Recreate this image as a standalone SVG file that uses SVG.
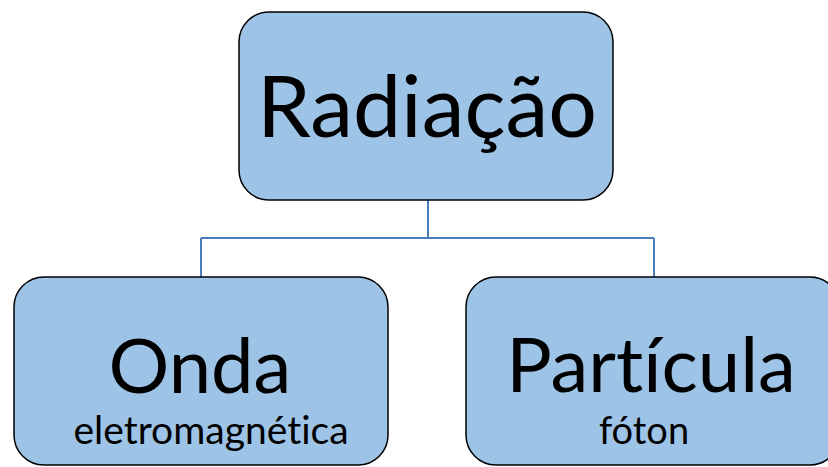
<svg xmlns="http://www.w3.org/2000/svg" width="828" height="467" viewBox="0 0 828 467">
<style>
.box{fill:#9dc3e6;stroke:#000;stroke-width:1.5}
.t{font-family:Lato,"Open Sans",sans-serif;fill:#000;text-anchor:middle;font-variant-ligatures:none;font-feature-settings:"liga" 0}
.c{fill:none;stroke:#4a7ebb;stroke-width:2}
</style>
<rect width="828" height="467" fill="#fff"/>
<g id="connectors">
<path class="c" d="M428 200 V238 M201 238 H654 M201 238 V277 M654 238 V277"/>
</g>
<g id="radiacao">
<rect class="box" x="239" y="12" width="374" height="188" rx="30"/>
<text class="t" x="427" y="137" font-size="86">Radiação</text>
</g>
<g id="onda">
<rect class="box" x="14" y="277" width="374" height="188" rx="30"/>
<text class="t" x="200" y="393" font-size="76">Onda</text>
<text class="t" x="211" y="444" font-size="39">eletromagnética</text>
</g>
<g id="particula">
<rect class="box" x="466" y="277" width="374" height="188" rx="30"/>
<text class="t" x="651" y="392" font-size="76">Partícula</text>
<text class="t" x="644" y="444" font-size="38">fóton</text>
</g>
</svg>
